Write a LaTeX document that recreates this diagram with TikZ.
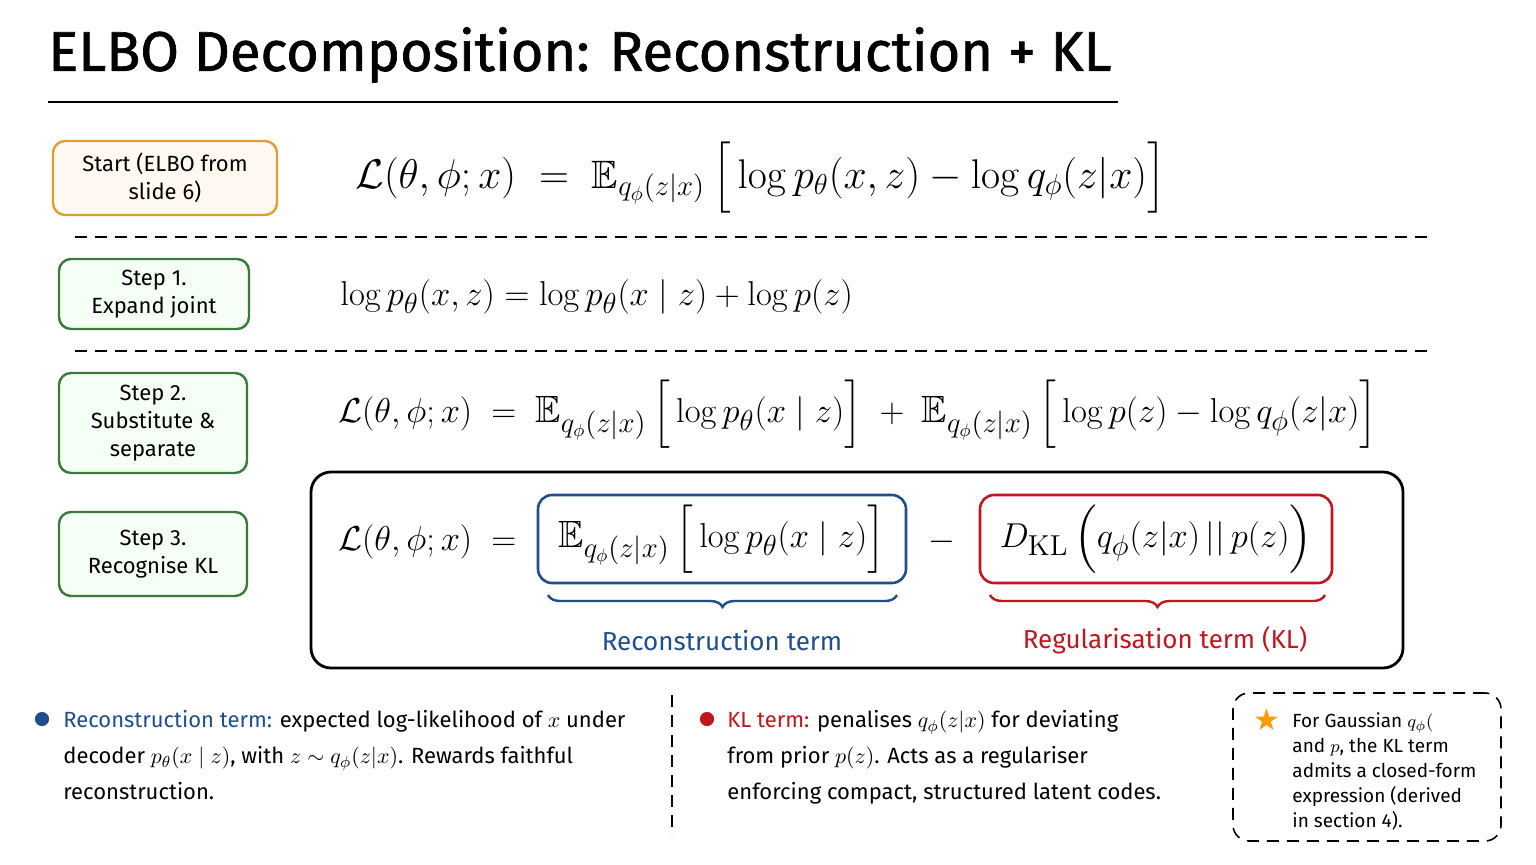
\documentclass[tikz,border=0pt]{standalone}
\usepackage{amsmath,amssymb}
\usepackage[no-math]{fontspec}
\setmainfont{Fira Sans}
\newfontfamily\symf{DejaVu Sans}
\newfontfamily\titlef[FakeBold=1.2]{Fira Sans}
\usetikzlibrary{decorations.pathreplacing}
\definecolor{cblue}{HTML}{1F4E8C}
\definecolor{cred}{HTML}{C0161E}
\definecolor{corange}{HTML}{E0A030}
\definecolor{cgreen}{HTML}{3A7A3A}
\tikzset{
 stepbox/.style={draw=cgreen,fill=green!4,rounded corners=6pt,line width=1.2pt,align=center,font=\fontsize{11}{14}\selectfont,inner sep=0},
 eq/.style={anchor=west,font=\fontsize{19}{20}\selectfont,inner sep=0},
 body/.style={anchor=north west,align=left,font=\fontsize{11}{18}\selectfont,inner sep=0},
 dashln/.style={line width=1pt,dash pattern=on 6pt off 4pt},
}
\newcommand{\Eq}{\mathbb{E}_{q_\phi(z|x)}}
\begin{document}
\begin{tikzpicture}[x=0.5pt,y=-0.5pt]
\useasboundingbox[fill=white] (0,0) rectangle (1536,864);
\node[anchor=west,font=\fontsize{28}{30}\titlef,inner sep=0] (title) at (48,55) {ELBO Decomposition: Reconstruction + KL};
\coordinate (u1) at (48,102); \coordinate (u2) at (1118,102);
\draw[line width=1.3pt] (u1) -- (u2);
% step boxes
\node[stepbox,draw=corange,fill=orange!5,minimum width=112pt,minimum height=37pt] (s0) at (165,178) {Start (ELBO from\\slide 6)};
\node[stepbox,minimum width=95pt,minimum height=35pt] (s1) at (154,294) {Step 1.\\Expand joint};
\node[stepbox,minimum width=94pt,minimum height=50pt] (s2) at (153,423) {Step 2.\\Substitute \&\\separate};
\node[stepbox,minimum width=94pt,minimum height=42pt] (s3) at (153,554) {Step 3.\\Recognise KL};
% dashed separators
\coordinate (d1a) at (75,237); \coordinate (d1b) at (1430,237);
\coordinate (d2a) at (75,351); \coordinate (d2b) at (1430,351);
\draw[dashln] (d1a) -- (d1b); \draw[dashln] (d2a) -- (d2b);
% equations
\node[eq,font=\fontsize{19.8}{22}\selectfont] (e1) at (355,178) {$\mathcal{L}(\theta,\phi;x) \;=\; \Eq\,\Big[\log p_\theta(x,z) - \log q_\phi(z|x)\Big]$};
\node[eq] (e2) at (340,297) {$\log p_\theta(x,z) = \log p_\theta(x\mid z) + \log p(z)$};
\node[eq] (e3) at (338,414) {$\mathcal{L}(\theta,\phi;x) \;=\; \Eq\,\Big[\log p_\theta(x\mid z)\Big] \;+\; \Eq\,\Big[\log p(z) - \log q_\phi(z|x)\Big]$};
% big box
\node[draw,line width=1.4pt,rounded corners=10pt,minimum width=546pt,minimum height=98pt,inner sep=0] (big) at (857,570) {};
\node[eq] (e4) at (338,542) {$\mathcal{L}(\theta,\phi;x) \;=$};
\node[draw=cblue,line width=1.3pt,rounded corners=7pt,minimum width=184pt,minimum height=44pt,inner sep=0,font=\fontsize{19}{20}\selectfont] (rb) at (722,539) {$\Eq\,\Big[\log p_\theta(x\mid z)\Big]$};
\node[font=\fontsize{19}{20}\selectfont,inner sep=0] (minus) at (942,542) {$-$};
\node[draw=cred,line width=1.3pt,rounded corners=7pt,minimum width=176pt,minimum height=44pt,inner sep=0,font=\fontsize{19}{20}\selectfont] (kb) at (1156,539) {$D_{\mathrm{KL}}\,\Big(q_\phi(z|x)\,||\,p(z)\Big)$};
\coordinate (b1a) at (548,595); \coordinate (b1b) at (897,595);
\coordinate (b2a) at (990,595); \coordinate (b2b) at (1325,595);
\draw[cblue,line width=1.2pt,decorate,decoration={brace,mirror,amplitude=6pt}] (b1a) -- (b1b);
\draw[cred,line width=1.2pt,decorate,decoration={brace,mirror,amplitude=6pt}] (b2a) -- (b2b);
\node[cblue,font=\fontsize{13}{15}\selectfont] (rl) at (722,640) {Reconstruction term};
\node[cred,font=\fontsize{13}{15}\selectfont] (kl) at (1165,640) {Regularisation term (KL)};
% bottom notes
\node[fill=cblue,circle,inner sep=2.5pt] (bu1) at (42,719) {};
\node[body] (t1) at (63,710) {\textcolor{cblue}{Reconstruction term:} expected log-likelihood of $x$ under\\decoder $p_\theta(x\mid z)$, with $z\sim q_\phi(z|x)$. Rewards faithful\\reconstruction.};
\coordinate (va) at (672,695); \coordinate (vb) at (672,835);
\draw[dashln,line width=0.8pt] (va) -- (vb);
\node[fill=cred,circle,inner sep=2.5pt] (bu2) at (707,719) {};
\node[body] (t2) at (727,710) {\textcolor{cred}{KL term:} penalises $q_\phi(z|x)$ for deviating\\from prior $p(z)$. Acts as a regulariser\\enforcing compact, structured latent codes.};
\node[draw,dashln,line width=0.8pt,rounded corners=8pt,minimum width=134pt,minimum height=74pt,inner sep=0] (note) at (1367,767) {};
\node[inner sep=0,font=\fontsize{15}{15}\symf\selectfont,text=orange!80!yellow] (star) at (1267,720) {★};
\node[body,font=\fontsize{9.5}{12.5}\selectfont] (t3) at (1292,712) {For Gaussian $q_\phi($\\and $p$, the KL term\\admits a closed-form\\expression (derived\\in section 4).};
\end{tikzpicture}
\end{document}
